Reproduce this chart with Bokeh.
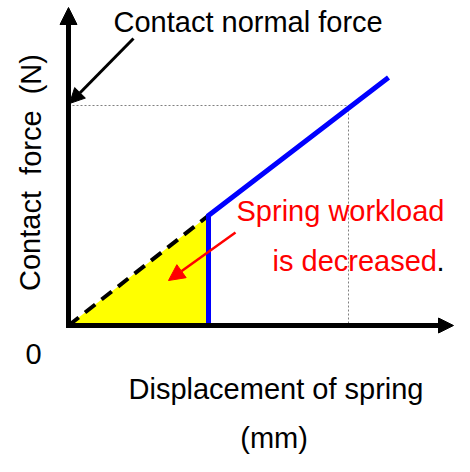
from bokeh.plotting import figure
from bokeh.models import Range1d, Arrow, NormalHead, Label
from bokeh.embed import file_html
from bokeh.resources import INLINE

# Schematic data (displacement units, force units)
area_x = [0, 7, 7]
area_y = [0, 0, 5.5]
dash_x = [0, 7]
dash_y = [0, 5.5]
blue_x = [7, 7, 16]
blue_y = [0, 5.5, 12.4]
rated_x = 14
rated_force = 11
axis_x_end = 19.25
axis_y_end = 15.9

FONT = "Liberation Sans"
FS = "29px"

p = figure(width=454, height=456, x_range=Range1d(-3.4, 19.3), y_range=Range1d(-6.55, 16.25),
           output_backend="svg", toolbar_location=None, min_border=0,
           x_axis_location=None, y_axis_location=None)
p.grid.visible = False
p.outline_line_color = None
p.background_fill_color = "white"
p.border_fill_color = "white"

# yellow area
p.patch(area_x, area_y, fill_color="#FFFF00", line_color=None)
# dashed initial line
p.line(dash_x, dash_y, line_color="black", line_width=4, line_dash="13 8")
# dotted guides
p.line([0, rated_x], [rated_force, rated_force], line_color="#808080", line_width=1, line_dash="2 2")
p.line([rated_x, rated_x], [rated_force, 0], line_color="#808080", line_width=1, line_dash="2 2")

# axes as arrows
p.add_layout(Arrow(end=NormalHead(size=17, fill_color="black", line_color="black"),
                   x_start=0, y_start=-0.12, x_end=0, y_end=axis_y_end,
                   line_color="black", line_width=5))
p.add_layout(Arrow(end=NormalHead(size=15, fill_color="black", line_color="black"),
                   x_start=-0.12, y_start=0, x_end=axis_x_end, y_end=0,
                   line_color="black", line_width=5))

# blue curve
p.line(blue_x, blue_y, line_color="#0000FF", line_width=5, line_join="miter")

# annotation arrows
p.add_layout(Arrow(end=NormalHead(size=15, fill_color="black", line_color="black"),
                   x_start=3.25, y_start=14.35, x_end=0.05, y_end=rated_force + 0.1,
                   line_color="black", line_width=3))
p.add_layout(Arrow(end=NormalHead(size=16, fill_color="#FF0000", line_color="#FF0000"),
                   x_start=8.35, y_start=4.65, x_end=5.0, y_end=2.25,
                   line_color="#FF0000", line_width=2.5))

def lab(x, y, t, color="black", align="left", angle=0):
    p.add_layout(Label(x=x, y=y, text=t, text_font=FONT, text_font_size=FS,
                       text_color=color, text_align=align, text_baseline="alphabetic",
                       angle=angle))

lab(2.25, 15.2, "Contact normal force")
lab(8.4, 5.75, "Spring workload", color="#FF0000")
lab(10.2, 3.25, "is decreased", color="#FF0000")
lab(18.4, 3.25, ".")
lab(10.375, -3.15, "Displacement of spring", align="center")
lab(10.28, -5.6, "(mm)", align="center")
lab(-2.15, -1.4, "0")
lab(-1.9, 7.65, "Contact \u00a0force \u00a0(N)", align="center", angle=1.5707963)

open("out.html", "w").write(file_html(p, INLINE))
